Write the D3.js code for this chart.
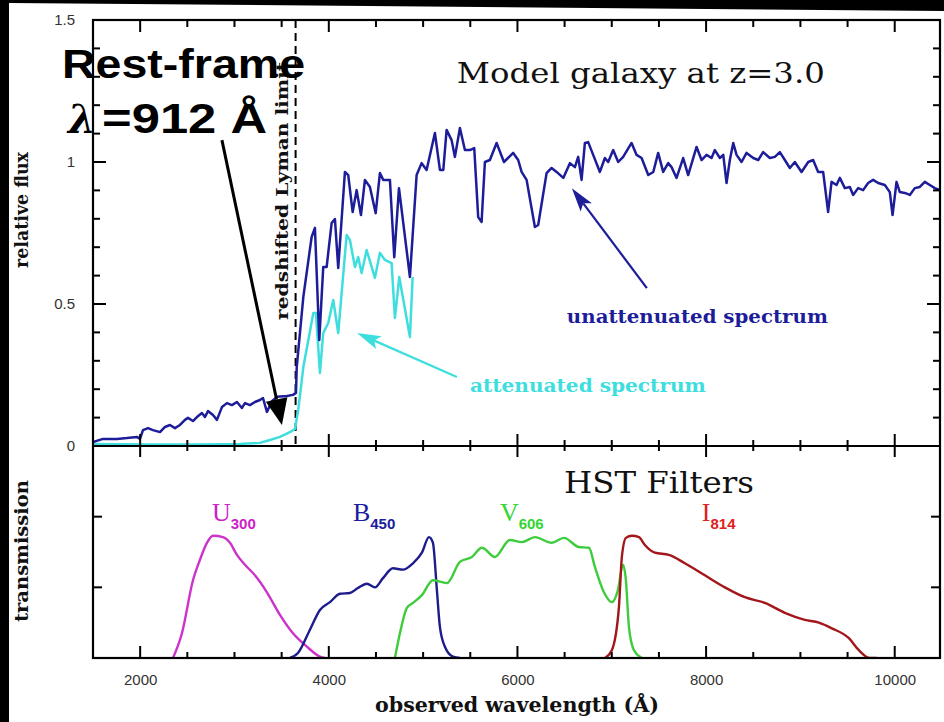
<!DOCTYPE html>
<html>
<head>
<meta charset="utf-8">
<script src="https://cdn.jsdelivr.net/npm/d3@7"></script>
<style>
  html, body { margin: 0; padding: 0; background: #000; }
  svg { display: block; }
</style>
</head>
<body>
<svg id="chart" width="944" height="722"></svg>
<script>
// ---------- data ----------
// Unattenuated model spectrum: [observed wavelength (Å), relative flux]
const unattenuated = [
  [1500,0.014],[1606,0.025],[1754,0.025],[1860,0.028],[1966,0.032],[1998,0.025],[2030,0.056],[2083,0.063],
  [2136,0.056],[2210,0.049],[2263,0.067],[2316,0.074],[2369,0.063],[2422,0.074],[2475,0.092],[2507,0.099],
  [2560,0.088],[2602,0.102],[2655,0.116],[2687,0.102],[2719,0.123],[2772,0.109],[2814,0.092],[2867,0.137],
  [2920,0.151],[2973,0.144],[3026,0.155],[3079,0.134],[3111,0.151],[3164,0.144],[3217,0.155],[3270,0.162],
  [3302,0.169],[3344,0.120],[3397,0.158],[3450,0.173],[3556,0.176],[3620,0.180],[3652,0.187],[3660,0.278],
  [3730,0.525],[3818,0.736],[3853,0.768],[3899,0.373],[3941,0.630],[3977,0.630],[4030,0.785],[4065,0.799],
  [4100,0.627],[4171,0.965],[4206,0.954],[4253,0.824],[4295,0.901],[4341,0.813],[4383,0.937],[4436,0.912],
  [4497,0.820],[4542,0.961],[4577,0.937],[4648,0.937],[4694,0.665],[4744,0.908],[4860,0.595],[4931,0.954],
  [4984,0.996],[5037,0.972],[5125,1.102],[5178,0.972],[5214,0.972],[5249,1.113],[5302,1.077],[5337,1.018],
  [5390,1.120],[5443,1.042],[5496,1.042],[5542,1.049],[5584,0.806],[5620,0.789],[5655,1.000],[5708,1.007],
  [5779,1.067],[5857,1.000],[5955,1.032],[6008,1.007],[6044,0.965],[6097,0.937],[6185,0.771],[6220,0.778],
  [6309,0.961],[6362,0.979],[6415,0.965],[6486,0.944],[6556,0.996],[6609,0.982],[6644,1.018],[6680,0.937],
  [6715,1.067],[6750,1.070],[6803,1.025],[6874,0.965],[6927,1.014],[6962,1.000],[7015,1.042],[7068,1.000],
  [7121,1.018],[7210,1.067],[7263,1.025],[7316,1.014],[7387,0.954],[7440,0.965],[7492,1.032],[7545,0.965],
  [7598,0.996],[7634,0.982],[7687,0.944],[7757,1.014],[7810,0.954],[7899,1.053],[7952,1.007],[8005,1.025],
  [8058,1.014],[8093,1.042],[8146,1.014],[8182,1.025],[8217,0.926],[8252,1.007],[8288,1.067],[8323,1.025],
  [8376,1.000],[8429,1.032],[8500,1.014],[8553,1.007],[8605,1.035],[8676,1.014],[8729,1.018],[8782,1.035],
  [8835,1.007],[8888,0.979],[8941,1.000],[9012,0.965],[9083,1.000],[9135,1.007],[9188,0.965],[9241,0.965],
  [9294,0.824],[9330,0.930],[9383,0.919],[9418,0.944],[9471,0.908],[9524,0.912],[9559,0.884],[9612,0.908],
  [9665,0.901],[9718,0.926],[9771,0.937],[9824,0.926],[9895,0.919],[9948,0.894],[9977,0.813],[10019,0.930],
  [10054,0.894],[10107,0.891],[10160,0.884],[10213,0.908],[10266,0.912],[10319,0.930],[10372,0.919],
  [10425,0.908],[10478,0.901]
];

// Spectrum after intergalactic absorption (identical to the above redward of Lyα)
const attenuated = [
  [1500,0.007],[2104,0.005],[2634,0.005],[3058,0.007],[3270,0.011],[3376,0.021],[3482,0.032],[3588,0.049],
  [3641,0.060],[3676,0.127],[3730,0.278],[3836,0.468],[3864,0.468],[3906,0.257],[3941,0.398],[3994,0.433],
  [4047,0.514],[4100,0.398],[4189,0.743],[4224,0.725],[4277,0.630],[4312,0.665],[4348,0.609],[4401,0.690],
  [4489,0.592],[4542,0.680],[4595,0.655],[4666,0.644],[4701,0.451],[4747,0.595],[4860,0.384],[4889,0.595]
];

// HST filter transmission curves: [wavelength (Å), throughput]
const filterU300 = [
  [2348,0.000],[2443,0.035],[2560,0.110],[2634,0.139],[2708,0.163],[2772,0.173],[2878,0.171],[2952,0.163],
  [3026,0.146],[3111,0.132],[3217,0.117],[3344,0.093],[3482,0.061],[3620,0.035],[3768,0.016],[3906,0.002],[3959,0.000]
];
const filterB450 = [
  [3588,0.000],[3673,0.007],[3800,0.040],[3906,0.068],[4012,0.079],[4118,0.091],[4224,0.092],[4309,0.099],
  [4404,0.105],[4489,0.100],[4574,0.113],[4680,0.127],[4786,0.125],[4892,0.134],[4987,0.149],[5062,0.171],
  [5104,0.163],[5146,0.096],[5178,0.044],[5231,0.016],[5316,0.002],[5390,0.000]
];
const filterV606 = [
  [4701,0.000],[4754,0.035],[4828,0.071],[4892,0.078],[4987,0.089],[5104,0.110],[5252,0.106],[5390,0.136],
  [5517,0.143],[5623,0.156],[5761,0.143],[5920,0.167],[6047,0.164],[6185,0.171],[6365,0.163],[6493,0.170],
  [6652,0.157],[6758,0.156],[6821,0.129],[6917,0.093],[7001,0.079],[7065,0.096],[7118,0.132],[7150,0.110],
  [7182,0.044],[7235,0.011],[7320,0.000]
];
const filterI814 = [
  [6927,0.000],[7001,0.011],[7076,0.072],[7107,0.143],[7150,0.170],[7213,0.173],[7288,0.171],[7351,0.160],
  [7457,0.149],[7606,0.146],[7775,0.134],[7987,0.117],[8199,0.100],[8411,0.086],[8623,0.078],[8835,0.064],
  [9047,0.054],[9196,0.050],[9333,0.042],[9514,0.028],[9620,0.011],[9736,0.000],[9810,0.000]
];

// Redshifted Lyman limit: 912 Å × (1 + 3.0)
const lymanLimitObs = 3648;

// Axis ticks
const xMajorTicks = [2000, 4000, 6000, 8000, 10000];
const xMinorTicks = [2500, 3000, 3500, 4500, 5000, 5500, 6500, 7000, 7500, 8500, 9000, 9500];
const fluxMajorTicks = [0, 0.5, 1, 1.5];
const fluxMinorTicks = [0.1, 0.2, 0.3, 0.4, 0.6, 0.7, 0.8, 0.9, 1.1, 1.2, 1.3, 1.4];
const fluxTickLabels = ["0", "0.5", "1", "1.5"];
const transTicks = [0.1, 0.2];

// ---------- layout ----------
const W = 944, H = 722;
const svg = d3.select("#chart");

const x  = d3.scaleLinear().domain([1500, 10480]).range([93, 940]);
const yF = d3.scaleLinear().domain([0, 1.5]).range([446, 20]);
const yT = d3.scaleLinear().domain([0, 0.3]).range([658, 446]);
const xL = x(1500), xR = x(10480);

const serif = "'DejaVu Serif', 'Liberation Serif', serif";
const sans = "'Liberation Sans', Arial, Helvetica, sans-serif";

// dark surround and white sheet
svg.append("rect").attr("width", W).attr("height", H).attr("fill", "#000");
svg.append("path").attr("d", "M9,3 L944,11 L944,722 L9,722 Z").attr("fill", "#fff");

// clip for curves
const defs = svg.append("defs");
defs.append("clipPath").attr("id", "clipTop")
  .append("rect").attr("x", xL).attr("y", yF(1.5)).attr("width", xR - xL).attr("height", yF(0) - yF(1.5));
defs.append("clipPath").attr("id", "clipBot")
  .append("rect").attr("x", xL).attr("y", yT(0.3)).attr("width", xR - xL).attr("height", yT(0) - yT(0.3));

// ---------- spectra ----------
const specLine = d3.line().x(d => x(d[0])).y(d => yF(d[1]));
const specG = svg.append("g").attr("clip-path", "url(#clipTop)");

// redshifted Lyman limit
specG.append("line")
  .attr("x1", x(lymanLimitObs)).attr("x2", x(lymanLimitObs))
  .attr("y1", yF(1.5)).attr("y2", yF(0))
  .attr("stroke", "#000").attr("stroke-width", 2).attr("stroke-dasharray", "8,5");

specG.append("path").datum(attenuated).attr("d", specLine)
  .attr("fill", "none").attr("stroke", "#3fdede").attr("stroke-width", 2.5).attr("stroke-linejoin", "round");
specG.append("path").datum(unattenuated).attr("d", specLine)
  .attr("fill", "none").attr("stroke", "#1d1d9a").attr("stroke-width", 2.5).attr("stroke-linejoin", "round");

// ---------- filters ----------
const filtLine = d3.line().x(d => x(d[0])).y(d => yT(d[1])).curve(d3.curveMonotoneX);
const filtG = svg.append("g").attr("clip-path", "url(#clipBot)");
[
  [filterU300, "#cc33c8"],
  [filterB450, "#1c1c8c"],
  [filterV606, "#3ccc3c"],
  [filterI814, "#a3161a"]
].forEach(([data, color]) => {
  filtG.append("path").datum(data).attr("d", filtLine)
    .attr("fill", "none").attr("stroke", color).attr("stroke-width", 2.4).attr("stroke-linejoin", "round");
});

// ---------- frames ----------
svg.append("rect").attr("x", xL).attr("y", yF(1.5))
  .attr("width", xR - xL).attr("height", yT(0) - yF(1.5))
  .attr("fill", "none").attr("stroke", "#000").attr("stroke-width", 2.2);
svg.append("line").attr("x1", xL).attr("x2", xR).attr("y1", yF(0)).attr("y2", yF(0))
  .attr("stroke", "#000").attr("stroke-width", 2.2);

// ---------- tick marks ----------
const tickG = svg.append("g").attr("class", "tickmarks");
// ticks along a horizontal edge at y0, extending by len (negative = upward)
function xTicks(values, y0, len) {
  values.forEach(v => {
    tickG.append("line")
      .attr("x1", x(v)).attr("x2", x(v)).attr("y1", y0).attr("y2", y0 + len)
      .attr("stroke", "#000").attr("stroke-width", 2);
  });
}
// ticks along a vertical edge at x0
function yTicks(scale, values, x0, len) {
  values.forEach(v => {
    tickG.append("line")
      .attr("x1", x0).attr("x2", x0 + len).attr("y1", scale(v)).attr("y2", scale(v))
      .attr("stroke", "#000").attr("stroke-width", 2);
  });
}
xTicks(xMajorTicks, yF(1.5), 12);  xTicks(xMinorTicks, yF(1.5), 7);
xTicks(xMajorTicks, yF(0), -12);   xTicks(xMinorTicks, yF(0), -6);
xTicks(xMajorTicks, yF(0), 11);    xTicks(xMinorTicks, yF(0), 5);
xTicks(xMajorTicks, yT(0), -12);   xTicks(xMinorTicks, yT(0), -6);
yTicks(yF, fluxMajorTicks, xL, 13);  yTicks(yF, fluxMinorTicks, xL, 7);
yTicks(yF, fluxMajorTicks, xR, -13); yTicks(yF, fluxMinorTicks, xR, -7);
yTicks(yT, transTicks, xL, 9);       yTicks(yT, transTicks, xR, -9);

// tick labels
const xl = svg.append("g").attr("transform", `translate(0,${yT(0)})`)
  .call(d3.axisBottom(x).tickValues(xMajorTicks).tickSize(0).tickPadding(16).tickFormat(d3.format("d")));
xl.select(".domain").remove();
xl.selectAll("text").attr("font-family", sans).attr("font-size", 15).attr("fill", "#333");

const yl = svg.append("g").attr("transform", `translate(${xL},0)`)
  .call(d3.axisLeft(yF).tickValues(fluxMajorTicks).tickSize(0).tickPadding(18)
    .tickFormat((d, i) => fluxTickLabels[i]));
yl.select(".domain").remove();
yl.selectAll("text").attr("font-family", sans).attr("font-size", 15).attr("fill", "#333");

// ---------- text ----------
function label(txt, px, py, opts) {
  const t = svg.append("text").attr("x", px).attr("y", py).text(txt)
    .attr("font-family", opts.family || serif)
    .attr("font-size", opts.size)
    .attr("font-weight", opts.weight || "normal")
    .attr("fill", opts.fill || "#000");
  if (opts.length) t.attr("textLength", opts.length).attr("lengthAdjust", "spacingAndGlyphs");
  if (opts.rotate) t.attr("transform", `rotate(-90,${px},${py})`);
  return t;
}

label("Model galaxy at z=3.0", x(5358), yF(1.278), { size: 28, length: 368, fill: "#111" });
label("HST Filters", x(6493), yT(0.2335), { size: 30, length: 190, fill: "#111" });
label("unattenuated spectrum", x(6524), yF(0.433), { size: 19, weight: "bold", length: 261, fill: "#1d1d9a" });
label("attenuated spectrum", x(5496), yF(0.190), { size: 19, weight: "bold", length: 236, fill: "#3fdede" });
label("redshifted Lyman limit", x(3567), yF(0.444), { size: 17, weight: "bold", length: 258, rotate: true, fill: "#111" });

// axis titles
label("relative flux", 28, 268, { size: 19, weight: "bold", length: 116, rotate: true, fill: "#111" });
label("transmission", 28, 622, { size: 19, weight: "bold", length: 142, rotate: true, fill: "#111" });
label("observed wavelength (Å)", 375, 712, { size: 21, weight: "bold", length: 284, fill: "#111" });

// filter names with subscripts
function filterLabel(letter, sub, wl, color) {
  const t = svg.append("text").attr("x", x(wl)).attr("y", yT(0.194)).attr("fill", color);
  t.append("tspan").text(letter).attr("font-family", "'Liberation Serif', serif").attr("font-size", 26);
  t.append("tspan").text(sub).attr("font-family", sans).attr("font-weight", "bold")
    .attr("font-size", 15).attr("dy", 8);
}
filterLabel("U", "300", 2761, "#cc22c8");
filterLabel("B", "450", 4256, "#1c1ca0");
filterLabel("V", "606", 5814, "#33d433");
filterLabel("I", "814", 7955, "#e02020");

// ---------- arrows ----------
function arrow(from, to, color, width, headLen, headHalf, notch) {
  const x0 = x(from[0]), y0 = yF(from[1]), x1 = x(to[0]), y1 = yF(to[1]);
  const dx = x1 - x0, dy = y1 - y0, len = Math.hypot(dx, dy);
  const ux = dx / len, uy = dy / len, nx = -uy, ny = ux;
  const bx = x1 - headLen * ux, by = y1 - headLen * uy;
  const mx = x1 - (headLen - notch) * ux, my = y1 - (headLen - notch) * uy;
  svg.append("line").attr("x1", x0).attr("y1", y0).attr("x2", mx).attr("y2", my)
    .attr("stroke", color).attr("stroke-width", width);
  svg.append("path")
    .attr("d", `M${x1},${y1} L${bx + headHalf * nx},${by + headHalf * ny} L${mx},${my} L${bx - headHalf * nx},${by - headHalf * ny} Z`)
    .attr("fill", color);
}
arrow([5358, 0.243], [4298, 0.398], "#3fdede", 2.2, 24, 7, 5);
arrow([7372, 0.556], [6577, 0.908], "#1d1d9a", 2.2, 24, 7, 5);

// rest-frame annotation
svg.append("text").attr("x", 62).attr("y", yF(1.296))
  .attr("font-family", sans).attr("font-weight", "bold").attr("font-size", 40).attr("fill", "#000")
  .attr("textLength", 243).attr("lengthAdjust", "spacingAndGlyphs").text("Rest-frame");
const lam = svg.append("text").attr("x", 68).attr("y", yF(1.102)).attr("fill", "#000");
lam.append("tspan").text("λ").attr("font-family", "'DejaVu Serif', serif").attr("font-weight", "bold")
  .attr("font-style", "italic").attr("font-size", 40);
lam.append("tspan").text("=912 Å").attr("font-family", sans).attr("font-weight", "bold").attr("font-size", 42)
  .attr("dx", 6).attr("textLength", 165).attr("lengthAdjust", "spacingAndGlyphs");
arrow([2867, 1.077], [3503, 0.074], "#000", 3, 26, 11, 0);
</script>
</body>
</html>
